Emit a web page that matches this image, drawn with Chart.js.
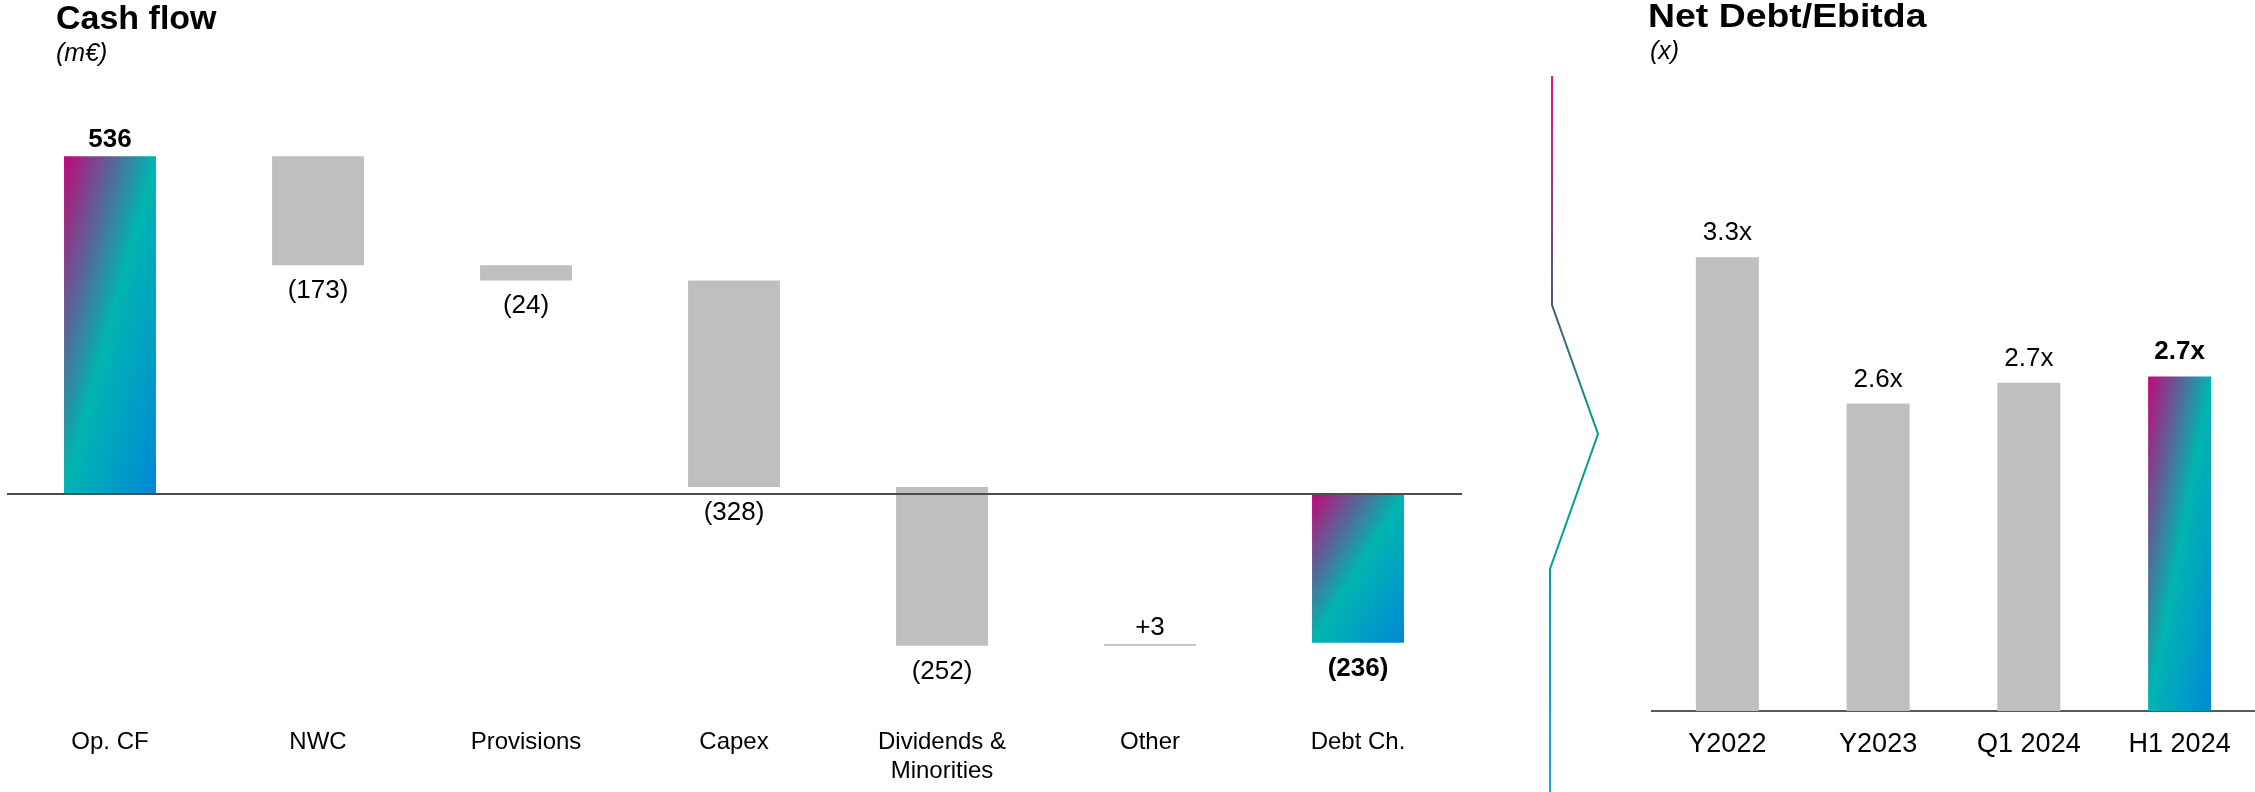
<!DOCTYPE html>
<html>
<head>
<meta charset="utf-8">
<script src="https://cdn.jsdelivr.net/npm/chart.js@4.4.1/dist/chart.umd.min.js"></script>
<style>
  body { margin: 0; width: 2255px; height: 792px; background: #fff; overflow: hidden; position: relative; font-family: "Liberation Sans", Arial, sans-serif; color: #000; }
  canvas { position: absolute; top: 0; }
  .title { position: absolute; font-weight: bold; font-size: 34px; line-height: 34px; white-space: nowrap; }
  .unit { position: absolute; font-style: italic; font-size: 25px; line-height: 25px; white-space: nowrap; }
  .wide { transform: scaleX(1.1); transform-origin: left top; }
  #separator { position: absolute; left: 1530px; top: 0; }
</style>
</head>
<body>
<canvas id="cash-flow" width="1470" height="792" style="left:0"></canvas>
<canvas id="net-debt" width="615" height="792" style="left:1640px"></canvas>

<svg id="separator" width="90" height="792" viewBox="1530 0 90 792">
  <defs>
    <linearGradient id="sep-grad" gradientUnits="userSpaceOnUse" x1="0" y1="76" x2="0" y2="792">
      <stop offset="0" stop-color="#ec1389"/>
      <stop offset="0.32" stop-color="#475a7a"/>
      <stop offset="0.5" stop-color="#009e88"/>
      <stop offset="0.69" stop-color="#00a09c"/>
      <stop offset="1" stop-color="#19a5e0"/>
    </linearGradient>
  </defs>
  <polyline points="1552,76 1552,305 1598,434 1550,569 1550,792" fill="none" stroke="url(#sep-grad)" stroke-width="2"/>
</svg>

<div class="title" style="left:56px;top:0">Cash flow</div>
<div class="unit" style="left:56px;top:40px">(m€)</div>
<div class="title wide" style="left:1648px;top:-2px">Net Debt/Ebitda</div>
<div class="unit" style="left:1650px;top:38px">(x)</div>

<script>
// Cash flow waterfall (m€)
const flowLabels = ['Op. CF', 'NWC', 'Provisions', 'Capex', ['Dividends &', 'Minorities'], 'Other', 'Debt Ch.'];
const flowValues = [536, -173, -24, -328, -252, 3, -236];
const flowIsTotal = [true, false, false, false, false, false, true];

// Net Debt / Ebitda (x)
const ratioLabels = ['Y2022', 'Y2023', 'Q1 2024', 'H1 2024'];
const ratioValues = [3.3, 2.6, 2.7, 2.73];
const ratioHighlight = [false, false, false, true];

const GREY = '#bfbfbf';
const FONT = '"Liberation Sans", Arial, sans-serif';
const flowBarPct = 0.442;
const ratioBarPct = 0.418;
const ratioAxisMin = 1.13;

// floating ranges for the waterfall
let running = 0;
const flowRanges = flowValues.map((v, i) => {
    if (flowIsTotal[i]) {
        running = v;
        return [0, v];
    }
    const range = [running, running + v];
    running += v;
    return range;
});

function formatFlow(v, i) {
    if (v < 0) return `(${-v})`;
    if (!flowIsTotal[i]) return `+${v}`;
    return `${v}`;
}

// diagonal brand gradient: magenta top-left, teal across the anti-diagonal, blue bottom-right
function diagGradient(ctx, left, top, right, bottom) {
    const w = right - left, h = bottom - top;
    const k = 2 * w * h / (w * w + h * h);
    const g = ctx.createLinearGradient(left, top, left + h * k, top + w * k);
    g.addColorStop(0, '#c0087a');
    g.addColorStop(0.5, '#00b5b0');
    g.addColorStop(1, '#0088d8');
    return g;
}

function barGradient(c, labels, pct, lo, hi) {
    const chart = c.chart;
    const { x, y } = chart.scales;
    if (!chart.chartArea || !x || !y) return '#00b5b0';
    const half = x.width / labels.length * pct / 2;
    const cx = x.getPixelForValue(c.dataIndex);
    const p1 = y.getPixelForValue(lo), p2 = y.getPixelForValue(hi);
    return diagGradient(chart.ctx, cx - half, Math.min(p1, p2), cx + half, Math.max(p1, p2));
}

const flowLabelPlugin = {
    id: 'flowLabels',
    afterDatasetsDraw(chart) {
        const { ctx, chartArea, scales: { y } } = chart;
        const zero = y.getPixelForValue(0);
        ctx.save();
        ctx.strokeStyle = '#4d4d4d';
        ctx.lineWidth = 2;
        ctx.beginPath();
        ctx.moveTo(chartArea.left + 1, zero);
        ctx.lineTo(chartArea.right, zero);
        ctx.stroke();

        ctx.fillStyle = '#000';
        ctx.textAlign = 'center';
        ctx.textBaseline = 'alphabetic';
        chart.getDatasetMeta(0).data.forEach((bar, i) => {
            const v = flowValues[i];
            const top = Math.min(bar.y, bar.base);
            const bottom = Math.max(bar.y, bar.base);
            ctx.font = (flowIsTotal[i] ? 'bold ' : '') + '26px ' + FONT;
            if (v > 0) ctx.fillText(formatFlow(v, i), bar.x, top - 9);
            else ctx.fillText(formatFlow(v, i), bar.x, bottom + 33);
        });
        ctx.restore();
    }
};

const ratioLabelPlugin = {
    id: 'ratioLabels',
    afterDatasetsDraw(chart) {
        const { ctx } = chart;
        ctx.save();
        ctx.fillStyle = '#000';
        ctx.textAlign = 'center';
        ctx.textBaseline = 'alphabetic';
        chart.getDatasetMeta(0).data.forEach((bar, i) => {
            ctx.font = (ratioHighlight[i] ? 'bold ' : '') + '26px ' + FONT;
            ctx.fillText(ratioValues[i].toFixed(1) + 'x', bar.x, Math.min(bar.y, bar.base) - 17);
        });
        ctx.restore();
    }
};

new Chart(document.getElementById('cash-flow'), {
    type: 'bar',
    data: {
        labels: flowLabels,
        datasets: [{
            data: flowRanges,
            backgroundColor: (c) => {
                if (c.dataIndex === undefined || !flowIsTotal[c.dataIndex]) return GREY;
                const [lo, hi] = flowRanges[c.dataIndex];
                return barGradient(c, flowLabels, flowBarPct, lo, hi);
            },
            borderWidth: 0,
            borderSkipped: false,
            barPercentage: flowBarPct,
            categoryPercentage: 1
        }]
    },
    options: {
        responsive: false,
        animation: false,
        layout: { padding: { left: 6, right: 8, top: 0, bottom: 0 } },
        plugins: { legend: { display: false }, tooltip: { enabled: false } },
        scales: {
            x: {
                grid: { display: false, drawTicks: false },
                border: { display: false },
                ticks: { color: '#000', font: { family: FONT, size: 24 }, padding: 16, maxRotation: 0 },
                afterFit: (scale) => { scale.height = 80; }
            },
            y: { display: false, min: -346, max: 784 }
        }
    },
    plugins: [flowLabelPlugin]
});

new Chart(document.getElementById('net-debt'), {
    type: 'bar',
    data: {
        labels: ratioLabels,
        datasets: [{
            data: ratioValues,
            base: ratioAxisMin,
            backgroundColor: (c) => {
                if (c.dataIndex === undefined || !ratioHighlight[c.dataIndex]) return GREY;
                return barGradient(c, ratioLabels, ratioBarPct, ratioAxisMin, ratioValues[c.dataIndex]);
            },
            borderWidth: 0,
            barPercentage: ratioBarPct,
            categoryPercentage: 1
        }]
    },
    options: {
        responsive: false,
        animation: false,
        layout: { padding: { left: 12, right: 0, top: 0, bottom: 0 } },
        plugins: { legend: { display: false }, tooltip: { enabled: false } },
        scales: {
            x: {
                grid: { display: false, drawTicks: false },
                border: { display: true, color: '#595959', width: 2 },
                ticks: { color: '#000', font: { family: FONT, size: 27 }, padding: 17, maxRotation: 0 },
                afterFit: (scale) => { scale.height = 81; }
            },
            y: { display: false, min: ratioAxisMin, max: 4.53 }
        }
    },
    plugins: [ratioLabelPlugin]
});
</script>
</body>
</html>
